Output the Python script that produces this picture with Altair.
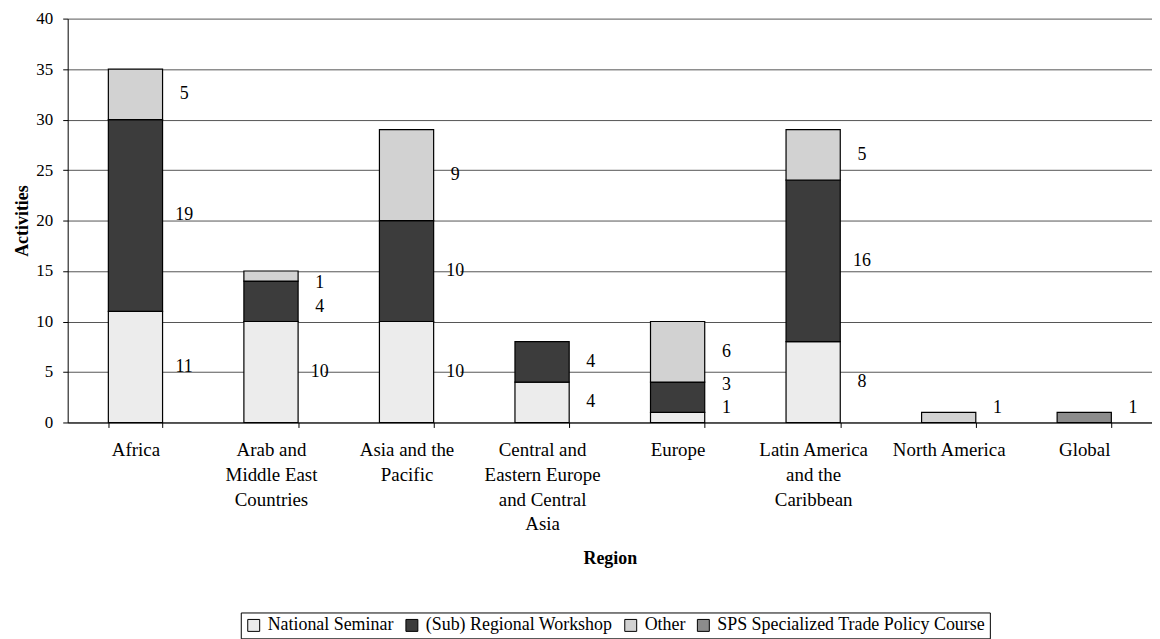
import altair as alt
import pandas as pd

# ---- data ----
regions = ["Africa", "Arab and Middle East Countries", "Asia and the Pacific",
           "Central and Eastern Europe and Central Asia", "Europe",
           "Latin America and the Caribbean", "North America", "Global"]
region_lines = [["Africa"], ["Arab and", "Middle East", "Countries"],
                ["Asia and the", "Pacific"],
                ["Central and", "Eastern Europe", "and Central", "Asia"],
                ["Europe"], ["Latin America", "and the", "Caribbean"],
                ["North America"], ["Global"]]
types = ["National Seminar", "(Sub) Regional Workshop", "Other",
         "SPS Specialized Trade Policy Course"]
national_seminar = [11, 10, 10, 4, 1, 8, 0, 0]
regional_workshop = [19, 4, 10, 4, 3, 16, 0, 0]
other = [5, 1, 9, 0, 6, 5, 1, 0]
sps_course = [0, 0, 0, 0, 0, 0, 0, 1]
y_ticks = [0, 5, 10, 15, 20, 25, 30, 35, 40]

# greys standing in for the pattern fills
fills = ["#ececec", "#3c3c3c", "#d2d2d2", "#8c8c8c"]

series = [national_seminar, regional_workshop, other, sps_course]

rows = []
for i, reg in enumerate(regions):
    base = 0
    segs = []
    for k, t in enumerate(types):
        v = series[k][i]
        if v > 0:
            segs.append(dict(region=reg, type=t, order=k, value=v,
                             y0=base, y1=base + v, mid=base + v / 2,
                             wide=v >= 10))
            base += v
    total = base
    # keep labels from overlapping (like the spreadsheet does)
    sep, lo, top_m = 2.35, 1.4, 1.2
    pos = [s["mid"] for s in segs]
    hi = total - top_m
    for j in range(len(pos) - 1, -1, -1):
        lim = hi if j == len(pos) - 1 else pos[j + 1] - sep
        pos[j] = min(pos[j], lim)
    for j in range(len(pos)):
        lim = lo if j == 0 else pos[j - 1] + sep
        pos[j] = max(pos[j], lim)
    for s, p in zip(segs, pos):
        s["label_y"] = p
        rows.append(s)

df = pd.DataFrame(rows)

# multi-line x labels
expr = "datum.value"
for name, lines in zip(regions, region_lines):
    arr = "[" + ",".join("'" + l + "'" for l in lines) + "]"
    expr = f"datum.value == '{name}' ? {arr} : ({expr})"

FONT = "Liberation Serif"

x = alt.X("region:N", sort=regions,
          scale=alt.Scale(paddingInner=0.6, paddingOuter=0.3),
          axis=alt.Axis(title="Region", labelAngle=0, labelExpr=expr,
                        labelFont=FONT, labelFontSize=19, labelLineHeight=25,
                        labelColor="black", labelPadding=13,
                        tickBand="extent", tickColor="black", tickSize=5,
                        domainColor="black", titleFont=FONT, titleFontSize=18,
                        titleFontWeight="bold", titleColor="black",
                        titlePadding=16))

y_scale = alt.Scale(domain=[0, 40], nice=False)

bars = alt.Chart(df).mark_bar(stroke="black", strokeWidth=1.2).encode(
    x=x,
    y=alt.Y("y0:Q", scale=y_scale,
            axis=alt.Axis(title="Activities", values=y_ticks, grid=True,
                          gridColor="#555555", gridWidth=1,
                          domainColor="black", tickColor="black", tickSize=5,
                          labelFont=FONT, labelFontSize=17, labelColor="black",
                          labelPadding=10, titleFont=FONT, titleFontSize=18,
                          titleFontWeight="bold", titleColor="black",
                          titlePadding=4)),
    y2="y1:Q",
    fill=alt.Fill("type:N", sort=types,
                  scale=alt.Scale(domain=types, range=fills),
                  legend=alt.Legend(orient="none", legendX=174, legendY=597,
                                    direction="horizontal", title=None,
                                    strokeColor="black", padding=4,
                                    labelFont=FONT, labelFontSize=18,
                                    labelColor="black", labelLimit=500,
                                    symbolType="square",
                                    symbolSize=144, symbolStrokeColor="black",
                                    symbolStrokeWidth=1, columnPadding=9,
                                    labelOffset=5, symbolOpacity=1)),
    order=alt.Order("order:Q"),
)

# white boxes behind the value labels (they break the gridlines)
box_wide = "M-1.25,-0.8H1.25V0.8H-1.25Z"
box_narrow = "M-0.7,-0.8H0.7V0.8H-0.7Z"
bg_wide = alt.Chart(df).transform_filter("datum.wide").mark_point(
    shape=box_wide, size=64, fill="white", filled=True, opacity=1,
    strokeWidth=0, xOffset=49).encode(
    x=alt.X("region:N", sort=regions),
    y=alt.Y("label_y:Q", scale=y_scale),
)
bg_narrow = alt.Chart(df).transform_filter("!datum.wide").mark_point(
    shape=box_narrow, size=64, fill="white", filled=True, opacity=1,
    strokeWidth=0, xOffset=49).encode(
    x=alt.X("region:N", sort=regions),
    y=alt.Y("label_y:Q", scale=y_scale),
)

labels = alt.Chart(df).mark_text(font=FONT, fontSize=18, color="black",
                                 align="center", baseline="middle",
                                 dx=49).encode(
    x=alt.X("region:N", sort=regions),
    y=alt.Y("label_y:Q", scale=y_scale),
    text=alt.Text("value:Q"),
)

chart = alt.layer(bars, bg_wide, bg_narrow, labels).properties(
    width=1090, height=406,
    autosize=alt.AutoSizeParams(type="none"),
    padding={"left": 60, "top": 9, "right": 0, "bottom": 216},
).configure_view(stroke=None).configure_axis(
    labelFont=FONT, titleFont=FONT
).configure_legend(labelFont=FONT).configure_text(font=FONT)

chart.save("out.html", embed_options={"renderer": "svg", "actions": False})
